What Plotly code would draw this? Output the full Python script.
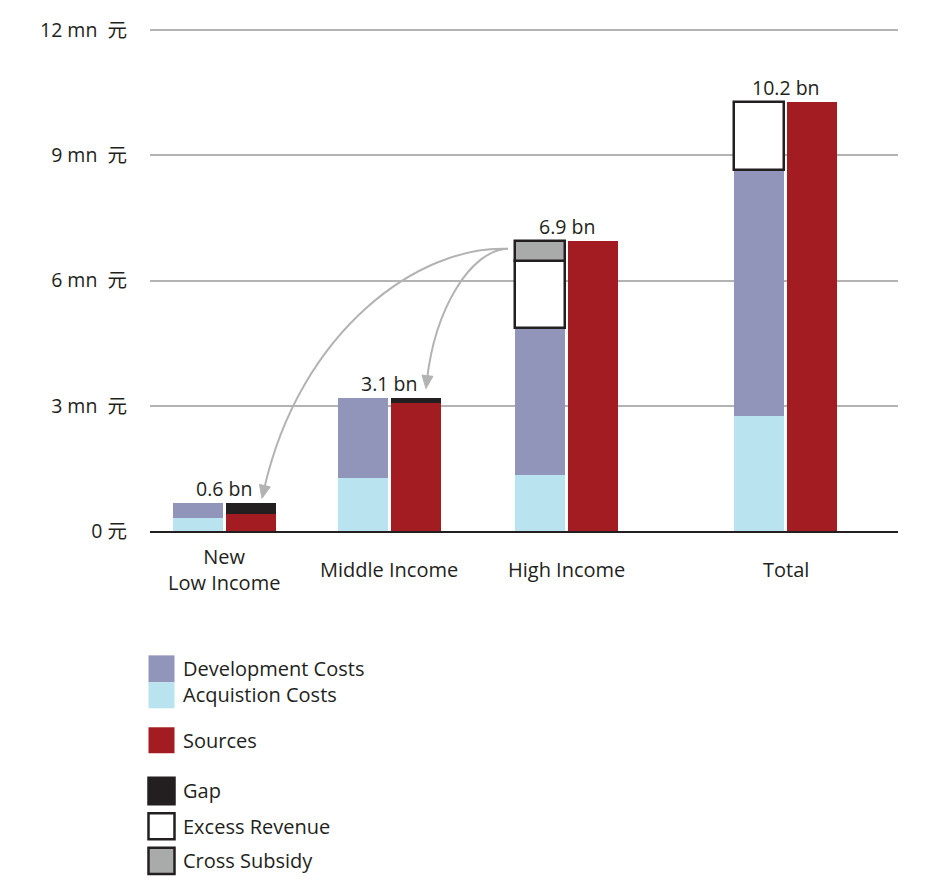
import math
import plotly.graph_objects as go

FONT = "'Open Sans', 'Noto Sans CJK SC', sans-serif"
INK = "#231f20"

# data (values in mn 元)
categories = ["New<br>Low Income", "Middle Income", "High Income", "Total"]
acquisition = [0.31, 1.26, 1.34, 2.76]
development = [0.37, 1.93, 3.53, 5.89]
excess_revenue = [None, None, 1.59, 1.62]
cross_subsidy = [None, None, 0.48, None]
sources = [0.40, 3.07, 6.94, 10.27]
gap = [0.28, 0.12, None, None]
total_labels = ["0.6 bn", "3.1 bn", "6.9 bn", "10.2 bn"]
y_ticks = [0, 3, 6, 9, 12]
y_ticktext = ["0 元", "3 mn\u00a0\u00a0元", "6 mn\u00a0\u00a0元", "9 mn\u00a0\u00a0元", "12 mn\u00a0\u00a0元"]

# layout (x axis runs in screen pixels so groups can be spaced like the original)
W, H = 936, 890
BODY = 8  # page margin around the plot div
PLOT_L, PLOT_R, PLOT_T, PLOT_B = 150, 898, 30, 531.5
Y_MAX = 12
Y_TOP = 12.05
PLOT_T_ACT = PLOT_B - (PLOT_B - PLOT_T) * Y_TOP / Y_MAX
group_x = [224, 389, 566.5, 785.5]
BAR_W = 50
HALF = 26.5

left_x = [g - HALF for g in group_x]
right_x = [g + HALF for g in group_x]


def ydata(py):
    return (PLOT_B - py) / (PLOT_B - PLOT_T) * Y_MAX


def ypaper(py):
    return (PLOT_B - py) / (PLOT_B - PLOT_T_ACT)


def xpaper(px):
    return (px - PLOT_L) / (PLOT_R - PLOT_L)


def bar(x, y, color, line_color=None, line_width=0):
    return go.Bar(
        x=x, y=y, width=BAR_W,
        marker=dict(color=color, line=dict(color=line_color or color, width=line_width)),
        showlegend=False, hoverinfo="skip",
    )


fig = go.Figure()
fig.add_trace(bar(left_x, acquisition, "#b9e4ef"))
fig.add_trace(bar(left_x, development, "#9195b9"))
fig.add_trace(bar(left_x, excess_revenue, "#ffffff", INK, 2.5))
fig.add_trace(bar(left_x, cross_subsidy, "#a9abaa", INK, 2.5))
fig.add_trace(bar(right_x, sources, "#a31c22"))
fig.add_trace(bar(right_x, gap, INK))

# total labels above each pair
annotations = []
for i, g in enumerate(group_x):
    left_top = sum(v or 0 for v in (acquisition[i], development[i], excess_revenue[i], cross_subsidy[i]))
    right_top = sum(v or 0 for v in (sources[i], gap[i]))
    annotations.append(dict(
        x=g, y=max(left_top, right_top), xref="x", yref="y",
        text=total_labels[i], showarrow=False, yanchor="bottom", yshift=-1,
        font=dict(size=19.5, color=INK, family=FONT),
    ))

# category labels
for g, c in zip(group_x, categories):
    annotations.append(dict(
        x=g, y=ypaper(570), xref="x", yref="paper", text=c, showarrow=False,
        yanchor="middle", font=dict(size=20, color=INK, family=FONT),
    ))

# curved arrows from the cross subsidy
shapes = []
ARROW_GREY = "#b3b3b3"


def curved_arrow(p0, c1, c2, p1):
    path = "M{},{} C{},{} {},{} {},{}".format(
        p0[0], ydata(p0[1]), c1[0], ydata(c1[1]), c2[0], ydata(c2[1]), p1[0], ydata(p1[1]))
    shapes.append(dict(type="path", path=path, xref="x", yref="y",
                       line=dict(color=ARROW_GREY, width=2), layer="above"))
    dx, dy = p1[0] - c2[0], p1[1] - c2[1]
    n = math.hypot(dx, dy)
    ux, uy = dx / n, dy / n
    tip = (p1[0] + ux * 9, p1[1] + uy * 9)
    base = (p1[0] - ux * 4, p1[1] - uy * 4)
    a = (base[0] - uy * 5.5, base[1] + ux * 5.5)
    b = (base[0] + uy * 5.5, base[1] - ux * 5.5)
    head = "M{},{} L{},{} L{},{} Z".format(
        tip[0], ydata(tip[1]), a[0], ydata(a[1]), b[0], ydata(b[1]))
    shapes.append(dict(type="path", path=head, xref="x", yref="y",
                       fillcolor=ARROW_GREY, line=dict(color=ARROW_GREY, width=1), layer="above"))


curved_arrow((508, 249), (420, 245), (300, 330), (264, 490))
curved_arrow((508, 249), (470, 250), (435, 310), (427, 380))

# legend drawn by hand
legend_items = [
    ("Development Costs", "#9195b9", None, 656, 683, 669),
    ("Acquistion Costs", "#b9e4ef", None, 683, 709, 695),
    ("Sources", "#a31c22", None, 728, 754, 741),
    ("Gap", INK, INK, 778.5, 805, 791),
    ("Excess Revenue", "#ffffff", INK, 814, 840, 827),
    ("Cross Subsidy", "#a9abaa", INK, 848.5, 875, 861),
]
for label, fill, border, top, bottom, ty in legend_items:
    shapes.append(dict(
        type="rect", xref="paper", yref="paper",
        x0=xpaper(148.5), x1=xpaper(174.5), y0=ypaper(bottom), y1=ypaper(top),
        fillcolor=fill, line=dict(color=border or fill, width=2.5 if border else 0),
    ))
    annotations.append(dict(
        x=xpaper(181), y=ypaper(ty), xref="paper", yref="paper", text=label,
        showarrow=False, xanchor="left", yanchor="middle",
        font=dict(size=20, color=INK, family=FONT),
    ))

fig.update_layout(
    width=W, height=H,
    margin=dict(l=PLOT_L - BODY, r=W - PLOT_R + BODY,
                t=PLOT_T_ACT - BODY, b=H - PLOT_B + BODY, autoexpand=False),
    paper_bgcolor="white", plot_bgcolor="white",
    barmode="relative", bargap=0,
    font=dict(family=FONT, color=INK),
    annotations=annotations, shapes=shapes,
    xaxis=dict(
        range=[PLOT_L, PLOT_R], showgrid=False, zeroline=False,
        showticklabels=False, ticks="", showline=True, linecolor=INK, linewidth=2,
        fixedrange=True, automargin=False,
    ),
    yaxis=dict(
        range=[0, Y_TOP], tickvals=y_ticks, ticktext=y_ticktext,
        showgrid=True, gridcolor="#b3b3b3", gridwidth=2, zeroline=False,
        ticks="", ticklabelstandoff=22, tickfont=dict(size=19.5, color=INK, family=FONT),
        fixedrange=True, automargin=False,
    ),
)

fig.write_html("out.html")
